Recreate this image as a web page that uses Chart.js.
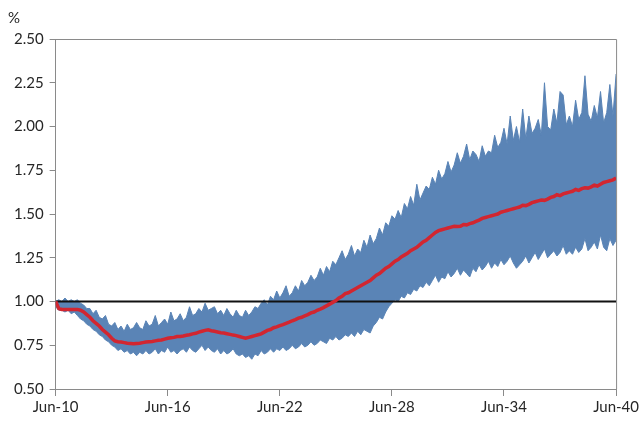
<!DOCTYPE html>
<html>
<head>
<meta charset="utf-8">
<script src="https://cdn.jsdelivr.net/npm/chart.js@4"></script>
<style>
html,body{margin:0;padding:0;background:#fff;}
#wrap{width:641px;height:429px;position:relative;}
</style>
</head>
<body>
<div id="wrap"><canvas id="c"></canvas></div>
<script>
// months since Jun-10, every 2 months (0..360)
const stepMonths = 2;
const xTickLabels = ["Jun-10","Jun-16","Jun-22","Jun-28","Jun-34","Jun-40"];
const yTickValues = [0.50,0.75,1.00,1.25,1.50,1.75,2.00,2.25,2.50];
const referenceLevel = 1.00;

const medianPath = [
1.00,0.96,0.955,0.955,0.955,0.955,0.955,0.955,0.95,0.94,
0.925,0.91,0.89,0.875,0.86,0.84,0.825,0.81,0.79,0.775,
0.77,0.768,0.765,0.762,0.76,0.758,0.76,0.762,0.765,0.768,
0.77,0.772,0.775,0.778,0.78,0.785,0.79,0.793,0.795,0.80,
0.80,0.803,0.807,0.81,0.815,0.818,0.825,0.83,0.835,0.838,
0.833,0.83,0.826,0.822,0.82,0.816,0.812,0.808,0.805,0.80,
0.795,0.79,0.795,0.80,0.805,0.81,0.815,0.825,0.835,0.84,
0.85,0.855,0.862,0.868,0.875,0.882,0.89,0.897,0.905,0.91,
0.918,0.925,0.935,0.94,0.95,0.957,0.965,0.975,0.985,0.995,
1.005,1.02,1.03,1.045,1.05,1.06,1.07,1.08,1.09,1.10,
1.11,1.12,1.135,1.15,1.16,1.175,1.19,1.20,1.215,1.23,
1.24,1.255,1.265,1.275,1.29,1.30,1.31,1.325,1.34,1.35,
1.365,1.38,1.395,1.405,1.41,1.415,1.42,1.425,1.43,1.428,
1.43,1.44,1.438,1.445,1.45,1.458,1.465,1.475,1.48,1.485,
1.49,1.495,1.50,1.51,1.515,1.52,1.525,1.53,1.535,1.54,
1.55,1.548,1.555,1.565,1.57,1.575,1.58,1.578,1.585,1.595,
1.60,1.61,1.605,1.615,1.62,1.625,1.63,1.64,1.635,1.645,
1.65,1.648,1.655,1.665,1.66,1.67,1.68,1.685,1.69,1.695,
1.705
];

const bandUpper = [
1.00,1.01,1.00,1.02,1.00,1.01,1.00,1.01,0.99,0.98,
0.96,0.96,0.93,0.95,0.91,0.90,0.92,0.87,0.86,0.88,
0.84,0.86,0.83,0.87,0.84,0.85,0.88,0.85,0.84,0.89,
0.86,0.87,0.92,0.86,0.88,0.90,0.87,0.94,0.89,0.90,
0.93,0.89,0.91,0.97,0.92,0.93,0.96,0.94,0.99,0.95,
0.96,0.97,0.93,0.95,0.92,0.96,0.93,0.91,0.95,0.92,
0.91,0.95,0.92,0.94,0.97,0.96,0.99,1.01,0.98,1.03,
1.01,1.06,1.02,1.05,1.09,1.03,1.05,1.09,1.06,1.12,
1.09,1.11,1.15,1.12,1.14,1.19,1.15,1.20,1.17,1.23,
1.21,1.25,1.29,1.24,1.27,1.32,1.26,1.30,1.28,1.35,
1.31,1.38,1.33,1.36,1.42,1.38,1.45,1.43,1.49,1.47,
1.52,1.48,1.56,1.53,1.60,1.55,1.67,1.58,1.62,1.66,
1.64,1.71,1.67,1.75,1.70,1.73,1.80,1.74,1.78,1.85,
1.79,1.83,1.90,1.81,1.86,1.84,1.80,1.89,1.83,1.86,
1.85,1.95,1.88,1.91,1.99,1.90,2.06,1.92,2.00,1.91,
2.10,1.93,2.06,1.96,1.99,2.04,1.95,2.25,2.00,1.98,
2.10,2.02,2.20,2.18,2.01,2.06,2.00,2.15,2.04,2.08,
2.29,2.07,2.03,2.12,2.05,2.20,2.02,2.08,2.24,2.06,
2.30
];

const bandLower = [
0.97,0.95,0.95,0.94,0.95,0.93,0.94,0.92,0.90,0.89,
0.87,0.86,0.84,0.83,0.81,0.80,0.78,0.77,0.75,0.74,
0.72,0.73,0.71,0.72,0.70,0.71,0.69,0.71,0.70,0.72,
0.70,0.71,0.73,0.70,0.72,0.71,0.74,0.71,0.72,0.70,
0.72,0.73,0.71,0.74,0.72,0.71,0.73,0.75,0.72,0.74,
0.72,0.71,0.73,0.70,0.72,0.70,0.71,0.73,0.70,0.69,
0.70,0.68,0.69,0.67,0.70,0.69,0.72,0.70,0.71,0.73,
0.71,0.73,0.72,0.74,0.72,0.73,0.75,0.73,0.74,0.76,
0.74,0.75,0.77,0.75,0.76,0.78,0.77,0.76,0.79,0.78,
0.80,0.78,0.79,0.81,0.80,0.82,0.80,0.83,0.81,0.84,
0.83,0.82,0.86,0.88,0.91,0.90,0.94,0.97,0.99,1.01,
1.00,1.03,1.02,1.05,1.04,1.07,1.06,1.09,1.08,1.11,
1.09,1.12,1.15,1.11,1.14,1.13,1.17,1.14,1.16,1.19,
1.15,1.18,1.16,1.14,1.19,1.17,1.21,1.18,1.20,1.23,
1.19,1.22,1.20,1.24,1.21,1.23,1.26,1.22,1.19,1.21,
1.23,1.26,1.22,1.25,1.28,1.24,1.27,1.30,1.25,1.27,
1.29,1.26,1.28,1.32,1.27,1.29,1.27,1.31,1.28,1.30,
1.36,1.29,1.31,1.34,1.30,1.38,1.31,1.29,1.36,1.32,
1.35
];

const toPts = arr => arr.map((v, i) => ({x: i * stepMonths, y: v}));
const lastMonth = (medianPath.length - 1) * stepMonths;

const BLUE = '#5A84B6';
const RED = '#D22630';
const AXIS = '#8a8a8a';
const TEXT = '#262626';
const FONT = {family: "Lato, 'Open Sans', sans-serif", size: 15, weight: 'normal'};

const frame = {
  id: 'frame',
  afterDraw(chart) {
    const {ctx, chartArea: a} = chart;
    ctx.save();
    ctx.strokeStyle = AXIS;
    ctx.lineWidth = 1;
    ctx.beginPath();
    ctx.moveTo(a.left, a.top + 0.5);
    ctx.lineTo(a.right + 0.5, a.top + 0.5);
    ctx.lineTo(a.right + 0.5, a.bottom);
    ctx.stroke();
    ctx.restore();
  }
};

new Chart(document.getElementById('c'), {
  type: 'line',
  data: {
    datasets: [
      {label: 'Median', data: toPts(medianPath), borderColor: RED, borderWidth: 3.5,
       pointRadius: 0, fill: false, order: 0},
      {label: 'Level', data: [{x: 0, y: referenceLevel}, {x: lastMonth, y: referenceLevel}],
       borderColor: '#111', borderWidth: 2, pointRadius: 0, fill: false, order: 1},
      {label: 'Upper', data: toPts(bandUpper), borderColor: BLUE, borderWidth: 1,
       backgroundColor: BLUE, pointRadius: 0, fill: '+1', order: 2},
      {label: 'Lower', data: toPts(bandLower), borderColor: BLUE, borderWidth: 1,
       pointRadius: 0, fill: false, order: 3}
    ]
  },
  options: {
    responsive: true,
    maintainAspectRatio: false,
    animation: false,
    events: [],
    layout: {padding: {left: 8, right: 0, top: 9, bottom: 11}},
    plugins: {
      legend: {display: false},
      tooltip: {enabled: false},
      title: {display: true, text: '%', align: 'start', color: TEXT, font: FONT,
              padding: {top: 0, bottom: 12}}
    },
    scales: {
      x: {
        type: 'linear', min: 0, max: lastMonth,
        afterBuildTicks: s => { s.ticks = xTickLabels.map((_, i) => ({value: i * 72})); },
        ticks: {color: TEXT, font: FONT, maxRotation: 0, padding: 2,
                callback: (v) => xTickLabels[Math.round(v / 72)]},
        grid: {drawOnChartArea: false, drawTicks: true, tickLength: 7, color: AXIS},
        border: {color: AXIS, width: 1}
      },
      y: {
        min: 0.5, max: 2.5,
        afterBuildTicks: s => { s.ticks = yTickValues.map(v => ({value: v})); },
        ticks: {color: TEXT, font: FONT, padding: 6,
                callback: v => Number(v).toFixed(2)},
        grid: {drawOnChartArea: false, drawTicks: true, tickLength: 6, color: AXIS},
        border: {color: AXIS, width: 1}
      }
    }
  },
  plugins: [frame]
});
</script>
</body>
</html>
